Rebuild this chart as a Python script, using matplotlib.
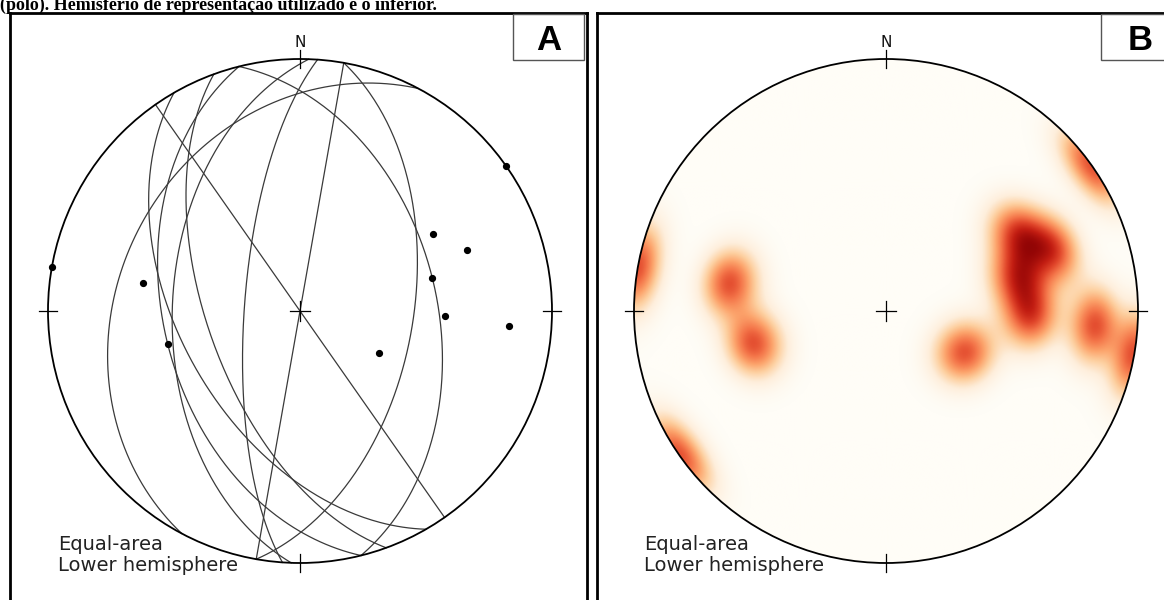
import numpy as np
import matplotlib.pyplot as plt
from matplotlib.colors import LinearSegmentedColormap
from matplotlib.patches import Circle, Rectangle

# planes (right-hand-rule strike / dip, degrees)
strikes = [145, 10, 10, 346, 150, 160, 166, 182, 184, 208]
dips = [90, 90, 53, 45, 51, 60, 45, 48, 72, 29]

caption = "(polo). Hemisfério de representação utilizado é o inferior."
panel_labels = ["A", "B"]
proj_text = "Equal-area\nLower hemisphere"

W, H = 1164, 600
R_PX = 252.0          # primitive radius in pixels
CY = 311.0            # centre row of both nets
K = 75.0              # kernel concentration for the density

dens_cmap = LinearSegmentedColormap.from_list(
    "orrd_white",
    ["#fffdf7", "#feeedb", "#fdcf9f", "#fca46c", "#f4764a", "#e0452a", "#c21d12", "#960606", "#6e0000"])


def project(n, e, d):
    """lower-hemisphere equal-area, primitive radius 1 -> (x east, y north)"""
    s = np.sign(d)
    s = np.where(s == 0, 1, s)
    n, e, d = n * s, e * s, d * s
    f = np.sqrt(1.0 + d)
    return e / f, n / f


def plane_curve(strike, dip, npts=200):
    s, dd, dp = np.radians(strike), np.radians(strike + 90), np.radians(dip)
    a = np.linspace(0, np.pi, npts)
    sv = np.array([np.cos(s), np.sin(s), 0.0])
    dv = np.array([np.cos(dp) * np.cos(dd), np.cos(dp) * np.sin(dd), np.sin(dp)])
    pts = np.outer(np.cos(a), sv) + np.outer(np.sin(a), dv)
    return project(pts[:, 0], pts[:, 1], np.clip(pts[:, 2], 0, None))


def pole_vectors(strikes, dips):
    tr = np.radians(np.asarray(strikes) + 270.0)
    pl = np.radians(90.0 - np.asarray(dips))
    return np.cos(pl) * np.cos(tr), np.cos(pl) * np.sin(tr), np.sin(pl)


def make_ax(fig, left_px, right_px, cx):
    ax = fig.add_axes([left_px / W, 0, (right_px - left_px) / W, (H - 13) / H])
    ax.set_xlim((left_px - cx) / R_PX, (right_px - cx) / R_PX)
    ax.set_ylim((CY - H) / R_PX, (CY - 13) / R_PX)
    ax.set_xticks([])
    ax.set_yticks([])
    for side in ("left", "top", "right"):
        ax.spines[side].set_linewidth(2.0)
        ax.spines[side].set_color("black")
    ax.spines["bottom"].set_visible(False)
    return ax


def decorate(ax):
    ax.add_patch(Circle((0, 0), 1.0, fill=False, ec="black", lw=1.3, zorder=5))
    t = 0.035
    for x, y, horiz in [(0, 0, None), (0, 1, False), (0, -1, False), (1, 0, True), (-1, 0, True)]:
        if horiz is None or horiz:
            ax.plot([x - 0.04, x + 0.04] if horiz is None else [x - t, x + t], [y, y],
                    color="black", lw=0.9, zorder=6)
        if horiz is None or not horiz:
            ax.plot([x, x], [y - 0.04, y + 0.04] if horiz is None else [y - t, y + t],
                    color="black", lw=0.9, zorder=6)
    ax.text(0, (CY - 43) / R_PX, "N", ha="center", va="center", fontsize=11, color="#111")
    ax.text(-0.96, (CY - 571) / R_PX, proj_text, ha="left", va="baseline",
            fontsize=14, color="#222", linespacing=1.15)


fig = plt.figure(figsize=(W / 100, H / 100), dpi=100)

# ---- panel A: great circles + poles
axA = make_ax(fig, 10, 587, 300)
for s, d in zip(strikes, dips):
    gx, gy = plane_curve(s, d)
    axA.plot(gx, gy, color="#3a3a3a", lw=0.9, zorder=3)
pn, pe, pd = pole_vectors(strikes, dips)
px_, py_ = project(pn, pe, pd)
axA.plot(px_, py_, "o", color="black", ms=4.2, zorder=7)
decorate(axA)

# ---- panel B: pole density
axB = make_ax(fig, 597, 1176, 886)
xs = np.linspace(-1, 1, 501)
X, Y = np.meshgrid(xs, xs)
R2 = np.clip(X ** 2 + Y ** 2, 0, 1)
q = np.sqrt(2 - R2)
gn, ge, gd = Y * q, X * q, 1 - R2
cosd = np.abs(gn[..., None] * pn + ge[..., None] * pe + gd[..., None] * pd)
dens = np.exp(K * (cosd - 1)).sum(axis=-1)
clip = Circle((0, 0), 1.0, transform=axB.transData)
im = axB.imshow(dens, origin="lower", extent=(-1, 1, -1, 1), cmap=dens_cmap,
                vmin=0, vmax=1.7, interpolation="bilinear", zorder=1)
im.set_clip_path(clip)
decorate(axB)

# ---- label boxes
for lab, (x0, x1), cx in zip(panel_labels, [(513, 584), (1101, 1175)], [548.5, 1140.5]):
    fig.add_artist(Rectangle((x0 / W, 1 - 60 / H), (x1 - x0) / W, 46 / H,
                             transform=fig.transFigure, fill=True, fc="white",
                             ec="#555555", lw=1.0, zorder=10))
    fig.text(cx / W, 1 - 40 / H, lab, ha="center", va="center", fontsize=25,
             fontweight="bold", family="Liberation Sans", zorder=11)

fig.text(0, 1 - 10 / H, caption, ha="left", va="baseline", fontsize=13,
         fontweight="bold", family="Liberation Serif")

fig.savefig("out.png", dpi=100)
